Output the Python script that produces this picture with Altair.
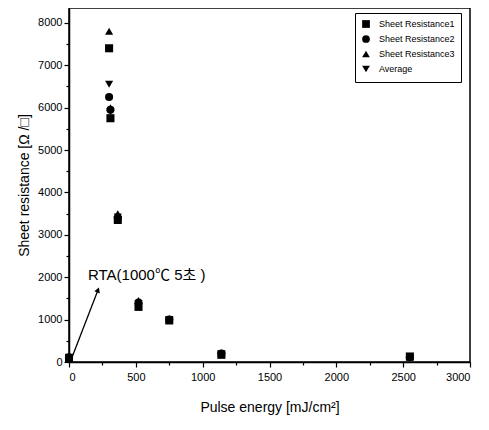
import altair as alt
import pandas as pd

# ---- data ----
sr1_x = [0, 300, 310, 365, 520, 750, 1140, 2550]
sr1_y = [90, 7400, 5750, 3350, 1300, 980, 170, 130]
sr2_x = [0, 300, 310, 365, 520, 750, 1140, 2550]
sr2_y = [110, 6250, 5950, 3400, 1400, 1000, 200, 110]
sr3_x = [0, 300, 310, 365, 520, 750, 1140, 2550]
sr3_y = [130, 7800, 6000, 3500, 1450, 1020, 220, 120]
avg_x = [0, 300, 310, 365, 520, 750, 1140, 2550]
avg_y = [110, 6550, 5900, 3420, 1380, 1000, 195, 120]

series_names = ["Sheet Resistance1", "Sheet Resistance2", "Sheet Resistance3", "Average"]
shapes = ["square", "circle", "triangle-up", "triangle-down"]

x_ticks = [0, 500, 1000, 1500, 2000, 2500, 3000]
x_minor = [250, 750, 1250, 1750, 2250, 2750]
y_ticks = [0, 1000, 2000, 3000, 4000, 5000, 6000, 7000, 8000]
y_minor = [500, 1500, 2500, 3500, 4500, 5500, 6500, 7500]

arrow_x = [20, 217]
arrow_y = [90, 1700]
label_text = "RTA(1000℃ 5초 )"
label_x = [142]
label_y = [2050]

rows = []
for name, xs_, ys_ in zip(series_names, [sr1_x, sr2_x, sr3_x, avg_x], [sr1_y, sr2_y, sr3_y, avg_y]):
    for a, b in zip(xs_, ys_):
        rows.append({"series": name, "x": a, "y": b})
df = pd.DataFrame(rows)

FONT = "Liberation Sans"
xs = alt.Scale(domain=[0, 3000], nice=False)
ys = alt.Scale(domain=[0, 8350], nice=False)

points = alt.Chart(df).mark_point(filled=True, color="black", opacity=1, size=65).encode(
    x=alt.X("x:Q", scale=xs, axis=alt.Axis(values=x_ticks, title="Pulse energy  [mJ/cm²]",
                                          grid=False, format="d", tickSize=5, orient="bottom",
                                          labelPadding=4, titlePadding=18)),
    y=alt.Y("y:Q", scale=ys, axis=alt.Axis(values=y_ticks, title="Sheet resistance [Ω /□]",
                                          grid=False, format="d", tickSize=5, orient="left",
                                          titlePadding=6)),
    shape=alt.Shape("series:N", sort=series_names,
                    scale=alt.Scale(domain=series_names, range=shapes),
                    legend=alt.Legend(title=None, orient="none", legendX=286, legendY=5,
                                      strokeColor="black", fillColor="white", padding=6,
                                      labelFontSize=9, labelFont=FONT, labelColor="black",
                                      symbolSize=60, labelOffset=8,
                                      symbolFillColor="black", symbolStrokeColor="black",
                                      rowPadding=1, labelLimit=200)),
)

minor_x = alt.Chart(pd.DataFrame({"x": x_minor})).mark_tick(opacity=0).encode(
    x=alt.X("x:Q", scale=xs, axis=alt.Axis(values=x_minor, labels=False, title=None,
                                          grid=False, tickSize=3, domain=False, orient="bottom")),
)
minor_y = alt.Chart(pd.DataFrame({"y": y_minor})).mark_tick(opacity=0).encode(
    y=alt.Y("y:Q", scale=ys, axis=alt.Axis(values=y_minor, labels=False, title=None,
                                          grid=False, tickSize=3, domain=False, orient="left")),
)

arrow_df = pd.DataFrame({"x": arrow_x, "y": arrow_y})
arrow_line = alt.Chart(arrow_df).mark_line(color="black", strokeWidth=1.3).encode(
    x=alt.X("x:Q", scale=xs, axis=None), y=alt.Y("y:Q", scale=ys, axis=None))
arrow_head = alt.Chart(arrow_df.iloc[[1]]).mark_point(
    shape="triangle-up", filled=True, color="black", opacity=1, size=35, angle=21).encode(
    x=alt.X("x:Q", scale=xs, axis=None), y=alt.Y("y:Q", scale=ys, axis=None))

label = alt.Chart(pd.DataFrame({"x": label_x, "y": label_y, "t": [label_text]})).mark_text(
    align="left", baseline="middle", fontSize=15, color="black",
    font="Liberation Sans, 'Noto Sans CJK KR'").encode(
    x=alt.X("x:Q", scale=xs, axis=None), y=alt.Y("y:Q", scale=ys, axis=None), text="t:N")

chart = alt.layer(points, minor_x, minor_y, arrow_line, arrow_head, label).resolve_axis(
    x="independent", y="independent"
).properties(
    width=401, height=354,
    padding={"left": 61, "top": 0, "right": 10, "bottom": 55},
    autosize=alt.AutoSizeParams(type="none"),
).configure_view(stroke="black", strokeWidth=1.5).configure_axis(
    domainColor="black", tickColor="black", labelColor="black", titleColor="black",
    labelFont=FONT, titleFont=FONT, labelFontSize=11, titleFontSize=14,
    titleFontWeight="normal", domainWidth=1.5, tickWidth=1.2,
)

chart.save("out.html", embed_options={"renderer": "svg", "actions": False})
